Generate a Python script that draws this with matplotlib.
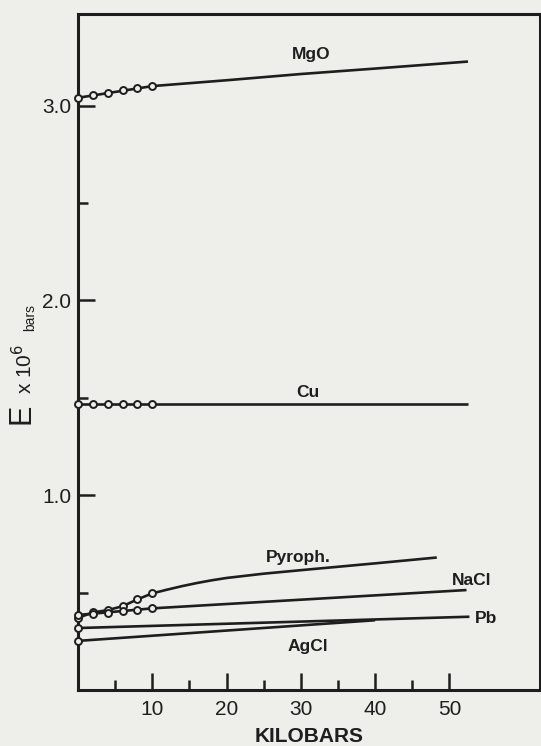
# Young's modulus vs pressure, scanned figure redraw

# Libraries
import matplotlib.pyplot as plt


############################
# Data
############################

# measured points (kilobars, E x 10^6 bars)
point_kbar = [0, 2, 4, 6, 8, 10]

mgo_points = [3.04, 3.056, 3.067, 3.08, 3.09, 3.10]
cu_points = [1.47, 1.47, 1.47, 1.47, 1.47, 1.47]
pyroph_points = [0.37, 0.398, 0.41, 0.43, 0.465, 0.496]
nacl_points = [0.385, 0.39, 0.393, 0.405, 0.41, 0.419]

# extrapolated curves
mgo_x = [0, 10, 20, 30, 40, 52.5]
mgo_y = [3.04, 3.10, 3.13, 3.162, 3.19, 3.226]

cu_x = [0, 52.5]
cu_y = [1.47, 1.47]

pyroph_x = [0, 2, 4, 6, 8, 10, 12, 14, 16, 18, 20, 25, 30, 40, 48.3]
pyroph_y = [0.37, 0.398, 0.41, 0.43, 0.465, 0.496, 0.515, 0.533, 0.549,
            0.563, 0.575, 0.597, 0.615, 0.65, 0.68]

nacl_x = [0, 10, 52.3]
nacl_y = [0.385, 0.419, 0.513]

pb_x = [0, 52.7]
pb_y = [0.318, 0.376]

agcl_x = [0, 40]
agcl_y = [0.252, 0.358]

# labels next to the curves
labels = ["MgO", "Cu", "Pyroph.", "NaCl", "Pb", "AgCl"]
label_x = [31.4, 31.0, 29.7, 53.0, 55.0, 31.0]
label_y = [3.262, 1.528, 0.682, 0.564, 0.369, 0.221]

x_ticks = [10, 20, 30, 40, 50]
y_ticks = [1.0, 2.0, 3.0]
y_tick_labels = ["1.0", "2.0", "3.0"]


############################
# Plot
############################

plt.rcParams["font.family"] = ["Liberation Sans", "DejaVu Sans"]

ink = "#1e1e1e"
paper = "#eeeeea"

fig = plt.figure(figsize=(5.41, 7.46), dpi=100, facecolor=paper)
ax = fig.add_axes([0.1442, 0.0751, 0.8540, 0.9061], facecolor=paper)

lw = 1.9

# lines
for xs, ys in [(mgo_x, mgo_y), (cu_x, cu_y), (pyroph_x, pyroph_y),
               (nacl_x, nacl_y), (pb_x, pb_y), (agcl_x, agcl_y)]:
    ax.plot(xs, ys, color=ink, linewidth=lw, solid_capstyle="butt",
            solid_joinstyle="round", zorder=2)

# data circles
for ys in [mgo_points, cu_points, pyroph_points, nacl_points]:
    ax.plot(point_kbar, ys, linestyle="none", marker="o", markersize=5,
            markerfacecolor=paper, markeredgecolor=ink, markeredgewidth=1.4,
            clip_on=False, zorder=3)

# single circles on the axis for Pb and AgCl
ax.plot([0, 0], [pb_y[0], agcl_y[0]], linestyle="none", marker="o",
        markersize=5, markerfacecolor=paper, markeredgecolor=ink,
        markeredgewidth=1.4, clip_on=False, zorder=3)

for name, lx, ly in zip(labels, label_x, label_y):
    ax.text(lx, ly, name, ha="center", va="center", fontsize=12.5,
            fontweight="bold", color=ink)

# axes
ax.set_xlim(0, 62.2)
ax.set_ylim(0, 3.47)

ax.set_xticks(x_ticks)
ax.set_xticks([5, 15, 25, 35, 45], minor=True)
ax.set_yticks(y_ticks)
ax.set_yticklabels(y_tick_labels)
ax.set_yticks([0.5, 1.5, 2.5], minor=True)

ax.tick_params(axis="both", which="major", direction="in", length=12,
               width=1.8, color=ink, labelcolor=ink, labelsize=15)
ax.tick_params(axis="both", which="minor", direction="in", length=7,
               width=1.8, color=ink)
ax.tick_params(axis="x", which="major", pad=7)
ax.tick_params(axis="y", which="major", pad=5)

for side in ["left", "right", "top", "bottom"]:
    ax.spines[side].set_linewidth(2.2)
    ax.spines[side].set_color(ink)

ax.set_xlabel("KILOBARS", fontsize=15, fontweight="bold", color=ink,
              labelpad=6)

# y label in three sizes, like the original lettering
fig.text(0.040, 0.445, "E", rotation=90, ha="center", va="center",
         fontsize=22, color=ink)
fig.text(0.043, 0.505, "x 10$^{6}$", rotation=90, ha="center", va="center",
         fontsize=15, color=ink)
fig.text(0.056, 0.575, "bars", rotation=90, ha="center", va="center",
         fontsize=10, color=ink)

fig.savefig("out.png", dpi=100, facecolor=paper)
